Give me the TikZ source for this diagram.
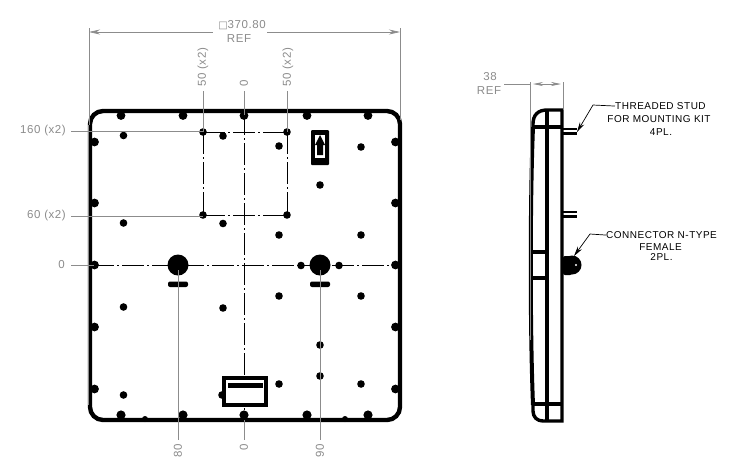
\documentclass[tikz,border=0pt]{standalone}
\usepackage{fontspec}
\usetikzlibrary{arrows.meta}
\setmainfont[LetterSpace=5]{Liberation Sans}
\newfontfamily\boxfont{DejaVu Sans}
\definecolor{dimgrey}{gray}{0.55}
\tikzset{
	dimline/.style={draw=dimgrey, line width=0.7pt},
	dimtext/.style={text=dimgrey, font=\fontsize{11.5}{11.5}\selectfont, inner sep=0pt},
	notetext/.style={text=black, font=\fontsize{10}{10}\selectfont, inner sep=0pt},
	centerline/.style={draw=black, line width=0.8pt, dash pattern=on 22pt off 3pt on 2pt off 3pt},
	outline/.style={draw=black, line width=4.4pt},
	sideline/.style={draw=black, line width=3.4pt},
	leader/.style={draw=black, line width=0.7pt},
}
\begin{document}
\begin{tikzpicture}[x=1pt, y=-1pt]
	\useasboundingbox (0,0) rectangle (755,475);
	\fill[white] (0,0) rectangle (755,475);

	% center lines
	\draw[centerline] (92,265) -- (398,265);
	\draw[centerline] (244,113) -- (244,418);
	\draw[centerline] (203,132) -- (287,132);
	\draw[centerline] (203,215) -- (287,215);
	\draw[centerline] (203,132) -- (203,215);
	\draw[centerline] (287,132) -- (287,215);

	% front panel
	\draw[outline, rounded corners=13pt] (90,111) rectangle (400,420);

	% bolts on the edge
	\foreach \x in {121,183,244,307,368} {
		\fill (\x,115.5) circle (4.4);
		\fill (\x,415) circle (4.6);
	}
	\foreach \y in {142,203,265,327,389} {
		\fill (94.5,\y) circle (4.4);
		\fill (395.5,\y) circle (4.4);
	}
	\fill (145,419) circle (3);
	\fill (345,419) circle (3);

	% holes
	\foreach \x/\y in {123.5/135.5, 223/136, 279/146, 361/147, 320/185, 123.5/223, 223/223.5, 279/235, 361/235,
		203/132, 287/132, 203/215, 287/215, 301/265.5, 339/265.5, 279/296, 361/296, 123.5/307, 223/308,
		320/345, 320/376, 279/384, 361/384, 123.5/395, 222/395} {
		\fill (\x,\y) circle (3.8);
	}

	% connectors
	\foreach \x in {178,320} {
		\fill (\x,265) circle (10.5);
		\fill[rounded corners=2pt] (\x-10,281.5) rectangle (\x+10,287);
	}

	% label and arrow plate
	\draw[draw=black, line width=3.2pt, fill=white] (224,378) rectangle (266,405);
	\fill (228,382.5) rectangle (263,388);
	\fill[rounded corners=1pt] (311,130) rectangle (329,165);
	\fill[white] (315,135) rectangle (325,158);
	\fill (320,135) -- (325,145) -- (323,145) -- (323,155) -- (317,155) -- (317,145) -- (315,145) -- cycle;

	% side view
	\draw[sideline] (533,127) -- (533,124) .. controls (533,115) and (538,110) .. (547,110) -- (562,110) -- (562,421)
		-- (543,421) .. controls (537,421) and (533,417) .. (533,411) -- (533,405);
	\draw[sideline, line width=4pt] (533,127) .. controls (530,200) and (530,330) .. (533,405);
	\draw[sideline, line width=4pt] (547,110) -- (547,421);
	\draw[sideline] (533,127) -- (562,127);
	\draw[sideline] (533,252) -- (547,252);
	\draw[sideline] (533,278) -- (547,278);
	\draw[sideline] (533,404) -- (562,404);

	% studs
	\draw[draw=black, line width=2.6pt] (563,129) -- (577,129) (563,133.5) -- (577,133.5);
	\draw[draw=black, line width=2.6pt] (563,212) -- (577,212) (563,216.5) -- (577,216.5);

	% n-type on the side
	\fill[rounded corners=2pt] (563,256) rectangle (572,275);
	\fill (572,265) circle (9.5);
	\fill[white] (576,265) circle (1.2);

	% notes
	\node[notetext, anchor=base west] (studTop) at (615,109.5) {THREADED STUD};
	\node[notetext, anchor=base] (studMid) at (659,122.5) {FOR MOUNTING KIT};
	\node[notetext, anchor=base] (studEnd) at (661,135.5) {4PL.};
	\node[notetext, anchor=base west] (connTop) at (606,238.5) {CONNECTOR N-TYPE};
	\node[notetext, anchor=base] (connMid) at (660.5,250) {FEMALE};
	\node[notetext, anchor=base] (connEnd) at (661.5,260) {2PL.};
	\coordinate (studTip) at (577,132);
	\coordinate (connTip) at (574,256);
	\draw[leader, -{Stealth[length=10pt, width=5pt]}] (studTop.west) -- (593,105) -- (studTip);
	\draw[leader, -{Stealth[length=10pt, width=5pt]}] (connTop.west) -- (590,234) -- (connTip);

	% dimensions front view
	\node[dimtext] (sizeTop) at (242,25) {{\boxfont\fontsize{10}{10}\selectfont □}370.80};
	\node[dimtext] (sizeRef) at (239,39) {REF};
	\draw[dimline] (89,28) -- (89,125);
	\draw[dimline] (400,28) -- (400,120);
	\draw[dimline, {Stealth[length=11pt, width=5pt]}-] (89,32) -- (213,32);
	\draw[dimline, -{Stealth[length=11pt, width=5pt]}] (267,32) -- (400,32);
	\draw[dimline] (88,125) -- (88,405);

	\node[dimtext, anchor=east] (rowA) at (66,131) {160 (x2)};
	\node[dimtext, anchor=east] (rowB) at (66,216) {60 (x2)};
	\node[dimtext, anchor=east] (rowC) at (65,265) {0};
	\draw[dimline] (71,131) -- (203,131);
	\draw[dimline] (71,216) -- (203,216);
	\draw[dimline] (71,265) -- (94,265);

	\node[dimtext, rotate=90, anchor=west] (colA) at (203,87) {50 (x2)};
	\node[dimtext, rotate=90, anchor=west] (colB) at (244,87) {0};
	\node[dimtext, rotate=90, anchor=west] (colC) at (288,87) {50 (x2)};
	\draw[dimline] (203,91) -- (203,132);
	\draw[dimline] (244,91) -- (244,115);
	\draw[dimline] (287,91) -- (287,132);

	\node[dimtext, rotate=90, anchor=east] (botA) at (178,444) {80};
	\node[dimtext, rotate=90, anchor=east] (botB) at (244,444) {0};
	\node[dimtext, rotate=90, anchor=east] (botC) at (320,444) {90};
	\draw[dimline] (178,270) -- (178,440);
	\draw[dimline] (244,420) -- (244,440);
	\draw[dimline] (320,270) -- (320,440);

	% dimensions side view
	\node[dimtext] (depthTop) at (490,77) {38};
	\node[dimtext] (depthRef) at (489,91) {REF};
	\draw[dimline] (504,84) -- (530,84);
	\draw[dimline] (530,82) -- (530,340);
	\draw[dimline] (563,82) -- (563,110);
	\draw[dimline, {Stealth[length=10pt, width=4pt]}-{Stealth[length=10pt, width=4pt]}] (533,84) -- (561,84);
\end{tikzpicture}
\end{document}
